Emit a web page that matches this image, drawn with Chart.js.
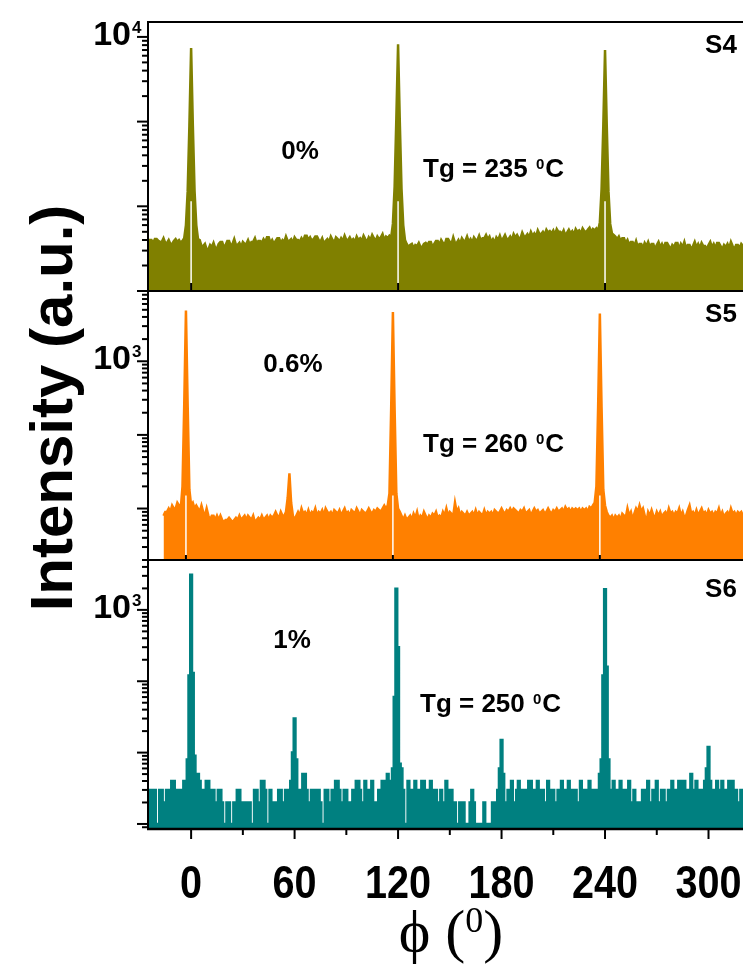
<!DOCTYPE html>
<html>
<head>
<meta charset="utf-8">
<script src="https://cdn.jsdelivr.net/npm/chart.js@4.4.1/dist/chart.umd.min.js"></script>
<style>
  html, body { margin: 0; padding: 0; background: #fff; overflow: hidden; }
  #wrap { position: relative; width: 743px; height: 967px; }
</style>
</head>
<body>
<div id="wrap"><canvas id="phiScan" width="743" height="967"></canvas></div>
<script>
(function () {
  "use strict";

  // phi scans, one reading per degree
  var PHI_STEP = 1;
  var s4Start = -26;
  var s5Start = -16;
  var s6Start = -26;

  // S4 (0 %), counts from -26 to 320 deg
  var s4Counts = [
    38, 38, 40, 40, 37, 41, 41, 39, 38, 38, 42, 37, 37, 40, 36, 36, 39, 41, 38, 40,
    37, 39, 42, 60, 150, 900, 7400, 900, 150, 60, 41, 40, 34, 34, 36, 31, 31, 35, 33, 37,
    32, 32, 36, 38, 38, 33, 35, 39, 39, 34, 36, 41, 35, 35, 37, 33, 38, 36, 36, 40,
    35, 38, 38, 42, 36, 39, 39, 37, 41, 38, 43, 43, 37, 40, 36, 39, 42, 42, 37, 40,
    38, 44, 39, 39, 41, 37, 43, 40, 40, 38, 42, 39, 45, 45, 40, 43, 39, 41, 44, 44,
    40, 38, 42, 36, 39, 41, 38, 44, 40, 37, 43, 41, 38, 42, 39, 45, 40, 40, 43, 39,
    41, 38, 44, 40, 42, 39, 45, 41, 38, 43, 40, 46, 42, 39, 44, 41, 43, 47, 40, 44,
    42, 45, 43, 62, 170, 1100, 8200, 1000, 160, 60, 40, 36, 33, 35, 36, 32, 35, 34, 37, 33,
    33, 36, 37, 35, 38, 38, 33, 36, 39, 39, 35, 40, 37, 35, 41, 41, 38, 36, 43, 37,
    37, 40, 36, 42, 39, 39, 44, 38, 41, 37, 43, 40, 40, 45, 39, 42, 42, 46, 41, 44,
    38, 41, 37, 43, 40, 45, 39, 42, 46, 41, 41, 44, 40, 47, 43, 46, 42, 42, 49, 44,
    44, 47, 43, 50, 45, 48, 44, 52, 47, 47, 50, 46, 53, 49, 51, 48, 52, 46, 54, 50,
    50, 47, 52, 45, 49, 53, 48, 51, 46, 54, 50, 52, 48, 55, 51, 49, 53, 56, 50, 54,
    52, 55, 51, 65, 160, 900, 7000, 900, 150, 62, 48, 46, 44, 41, 44, 39, 42, 42, 37, 40,
    35, 38, 38, 34, 39, 33, 36, 36, 32, 37, 34, 38, 33, 36, 36, 31, 35, 38, 33, 36,
    32, 37, 37, 34, 31, 35, 33, 37, 37, 31, 36, 33, 38, 32, 35, 35, 31, 34, 38, 33,
    36, 32, 37, 34, 34, 31, 35, 38, 33, 36, 32, 37, 37, 34, 31, 35, 33, 36, 32, 38,
    34, 31, 35, 35, 32, 36, 34
  ];

  // S5 (0.6 %), counts from -16 to 320 deg
  var s5Counts = [
    8, 9, 9, 10, 9, 11, 10, 10, 12, 11, 10, 20, 250, 4900, 250, 18, 11, 12, 10, 11,
    10, 9, 11, 9, 8, 10, 8, 7, 8, 8, 7, 8, 7, 8, 7, 6.5, 7, 7, 7.5, 7,
    6.5, 7, 7.5, 7, 8, 7, 7.5, 8, 7, 8, 7.5, 7, 8, 6.5, 7, 7.5, 7, 8, 7, 7.5,
    8, 7, 8, 7.5, 8, 9, 8, 7.5, 9, 8, 8, 9, 14, 30, 12, 8, 7, 8, 9, 8,
    10, 8.5, 9, 8, 9.5, 8, 9, 8.5, 10, 8, 9, 8.5, 9.5, 8, 10, 9, 8.5, 9, 8, 9.5,
    9, 8.5, 9.5, 8, 9, 10, 8.5, 9, 8, 9.5, 9, 8.5, 10, 9, 8, 9.5, 9, 8.5, 9, 10,
    9, 8.5, 9.5, 9, 10, 9.5, 9, 10, 11, 10, 11, 16, 230, 4650, 220, 16, 10, 9, 8, 7,
    8, 7, 7.5, 8, 7, 8.5, 7.5, 9, 7, 8, 7.5, 9, 8, 7, 8, 7.5, 8.5, 8, 9, 7.5,
    8, 7.5, 9, 8, 10, 8, 9, 8.5, 8, 12, 9, 10, 8, 9, 8.5, 8, 9, 8, 8.5, 9,
    8, 9.5, 8, 9, 8.5, 8, 9.5, 8, 9, 8.5, 9, 8, 9.5, 9, 8.5, 9, 10, 9, 8.5, 9.5,
    9, 10, 9, 10, 9.5, 9, 8.5, 9.5, 9, 10, 8.5, 9, 9.5, 8, 9, 10, 9, 9.5, 8.5, 9,
    9.5, 8.5, 9, 10, 9, 8.5, 9.5, 9, 10, 9, 9.5, 10, 9, 10.5, 9.5, 10, 9, 10, 9.5, 10,
    9.5, 10, 9, 10, 9.5, 10, 9, 10.5, 10, 11, 12, 20, 240, 4450, 230, 18, 11, 9, 8, 7.5,
    8, 7, 8, 7.5, 8, 7, 8.5, 8, 7.5, 10, 8, 9, 7, 8.5, 10, 9, 11, 9, 10, 8,
    6.5, 9, 8, 9.5, 8, 7.5, 9, 8, 9, 7.5, 8.5, 9, 8, 10, 8.5, 9, 8, 9, 8.5, 10,
    8, 9, 7.5, 8, 9.5, 11, 8.5, 9, 8, 9.5, 8, 9, 10, 8.5, 9, 8, 9.5, 8.5, 9, 8,
    9, 8.5, 10, 8, 9, 7.5, 8.5, 9, 8, 10, 8.5, 9, 8, 9, 8.5, 9, 8
  ];

  // S6 (1 %), counts from -26 to 320 deg
  var s6Counts = [
    2, 3, 3, 1, 3, 3, 1, 1, 3, 3, 2, 2, 3, 3, 3, 4, 4, 2, 3, 3,
    2, 3, 4, 4, 8, 120, 3100, 130, 9, 5, 5, 4, 3, 3, 2, 4, 4, 3, 2, 3,
    2, 2, 3, 3, 2, 1, 1, 2, 2, 1, 1, 2, 2, 3, 3, 2, 2, 2, 1, 2,
    2, 1, 1, 3, 3, 2, 2, 4, 4, 3, 1, 1, 3, 2, 2, 2, 1, 3, 3, 2,
    2, 3, 1, 3, 4, 10, 30, 8, 2, 3, 3, 5, 5, 3, 2, 2, 3, 3, 2, 3,
    3, 2, 1, 1, 3, 3, 2, 2, 3, 1, 4, 4, 3, 2, 2, 3, 3, 1, 2, 2,
    3, 1, 4, 4, 3, 2, 2, 4, 1, 3, 3, 4, 2, 2, 1, 3, 3, 4, 4, 2,
    5, 3, 4, 6, 60, 1980, 300, 7, 6, 3, 1, 1, 4, 2, 3, 3, 4, 2, 3, 2,
    4, 4, 2, 3, 1, 4, 2, 3, 3, 1, 2, 3, 2, 2, 4, 1, 3, 3, 2, 2,
    1, 1, 2, 2, 2, 1, 1, 1, 2, 3, 2, 1, 1, 1, 1, 1, 2, 1, 1, 1,
    1, 2, 2, 2, 3, 6, 15, 5, 2, 2, 3, 2, 4, 2, 2, 3, 4, 2, 3, 1,
    3, 1, 4, 4, 2, 3, 1, 4, 2, 3, 3, 2, 1, 4, 2, 3, 3, 1, 2, 3,
    2, 4, 3, 3, 1, 4, 2, 3, 1, 3, 2, 2, 4, 3, 1, 3, 2, 4, 3, 2,
    3, 2, 3, 5, 8, 120, 1950, 160, 8, 3, 2, 4, 2, 3, 1, 4, 2, 3, 2, 3,
    4, 2, 1, 3, 2, 1, 2, 1, 3, 3, 2, 4, 1, 2, 3, 2, 4, 2, 1, 3,
    3, 1, 2, 3, 1, 4, 2, 3, 1, 4, 2, 4, 4, 1, 3, 2, 5, 3, 2, 4,
    3, 2, 3, 2, 4, 6, 12, 4, 1, 3, 2, 4, 3, 1, 4, 2, 3, 2, 4, 1,
    4, 2, 3, 2, 1, 3, 2
  ];

  var xTickLabels = [0, 60, 120, 180, 240, 300];

  var FONT = "'Liberation Sans', Arial, sans-serif";
  var SERIF = "'Liberation Serif', 'Times New Roman', serif";

  function toPoints(start, counts) {
    return counts.map(function (c, i) { return { x: start + i * PHI_STEP, y: c }; });
  }

  // one entry per stacked panel, top to bottom
  var panels = [
    { axis: 'y4', tag: 'S4', doping: '0%', tg: '235', color: '#808000', stepped: false,
      min: 10, max: 15000, labelAt: 1e4, marks: [0, 120, 240], gapTop: 115, markLen: 8,
      dopingPos: [152, 128], tgPos: [275, 145.5], tagPos: [573, 22] },
    { axis: 'y5', tag: 'S5', doping: '0.6%', tg: '260', color: '#ff8000', stepped: false,
      min: 2, max: 9000, labelAt: 1e3, marks: [-3, 117, 237], gapTop: 15, markLen: 5,
      dopingPos: [145, 72], tgPos: [275, 152], tagPos: [573, 22] },
    { axis: 'y6', tag: 'S6', doping: '1%', tg: '250', color: '#008080', stepped: 'middle',
      min: 0.85, max: 5000, labelAt: 1e3, marks: [], gapTop: null, markLen: 0,
      dopingPos: [144, 79], tgPos: [272, 143], tagPos: [573, 28] }
  ];
  var series = [toPoints(s4Start, s4Counts), toPoints(s5Start, s5Counts), toPoints(s6Start, s6Counts)];

  function drawRich(ctx, x, y, parts) {
    parts.forEach(function (p) {
      ctx.font = p.font;
      ctx.fillText(p.t, x, y - (p.rise || 0));
      x += ctx.measureText(p.t).width + (p.after || 0);
    });
  }

  function line(ctx, x1, y1, x2, y2, w, color) {
    ctx.beginPath();
    ctx.lineWidth = w;
    ctx.strokeStyle = color;
    ctx.moveTo(x1, y1);
    ctx.lineTo(x2, y2);
    ctx.stroke();
  }

  var framePlugin = {
    id: 'phiFrame',
    afterDraw: function (chart) {
      var ctx = chart.ctx;
      var area = chart.chartArea;
      var xs = chart.scales.x;
      ctx.save();
      ctx.lineCap = 'butt';

      panels.forEach(function (p) {
        var ys = chart.scales[p.axis];
        // pale slits under the main reflections
        p.marks.forEach(function (m) {
          var px = xs.getPixelForValue(m);
          line(ctx, px, ys.bottom, px, ys.getPixelForValue(p.gapTop), 1.5, '#fff');
          line(ctx, px, ys.bottom, px, ys.bottom - p.markLen, 2, '#000');
        });
      });

      panels.forEach(function (p) {
        var ys = chart.scales[p.axis];
        // panel top edge and left axis
        line(ctx, area.left - 1, ys.top, area.right, ys.top, 2, '#000');
        line(ctx, area.left, ys.top, area.left, ys.bottom, 2, '#000');

        // log ticks, outward
        var e0 = Math.floor(Math.log10(p.min)), e1 = Math.ceil(Math.log10(p.max));
        for (var e = e0; e <= e1; e++) {
          for (var m = 1; m <= 9; m++) {
            var v = m * Math.pow(10, e);
            if (v < p.min * 0.999 || v > p.max) continue;
            var py = ys.getPixelForValue(v);
            line(ctx, area.left - (m === 1 ? 11 : 6), py, area.left, py, 2, '#000');
          }
        }

        // decade label with superscript exponent
        var ty = ys.getPixelForValue(p.labelAt);
        var exp = String(Math.round(Math.log10(p.labelAt)));
        ctx.fillStyle = '#000';
        ctx.textBaseline = 'alphabetic';
        ctx.font = 'bold 34px ' + FONT;
        ctx.textAlign = 'right';
        ctx.fillText('10', 131, ty + 8);
        ctx.textAlign = 'left';
        ctx.font = 'bold 17px ' + FONT;
        ctx.fillText(exp, 132, ty - 4);

        // sample annotations
        var ox = area.left, oy = ys.top;
        ctx.font = 'bold 26px ' + FONT;
        ctx.textAlign = 'center';
        ctx.fillText(p.doping, ox + p.dopingPos[0], oy + p.dopingPos[1] + 9);
        ctx.fillText(p.tag, ox + p.tagPos[0], oy + p.tagPos[1] + 9);
        ctx.textAlign = 'left';
        var big = 'bold 26px ' + FONT;
        drawRich(ctx, ox + p.tgPos[0], oy + p.tgPos[1] + 9, [
          { t: 'Tg = ' + p.tg + ' ', font: big, after: 1 },
          { t: '0', font: 'bold 15px ' + FONT, rise: 8, after: 1 },
          { t: 'C', font: big }
        ]);
      });

      // bottom phi axis
      line(ctx, area.left - 1, area.bottom, area.right, area.bottom, 2.5, '#000');
      for (var a = -30; a <= 330; a += 30) {
        if (a < xs.min || a > xs.max) continue;
        var px = xs.getPixelForValue(a);
        line(ctx, px, area.bottom, px, area.bottom + (a % 60 === 0 ? 10 : 6), 2, '#000');
      }
      ctx.fillStyle = '#000';
      ctx.textAlign = 'center';
      ctx.textBaseline = 'alphabetic';
      ctx.font = 'bold 46px ' + FONT;
      xTickLabels.forEach(function (t) {
        ctx.save();
        ctx.translate(xs.getPixelForValue(t), 898);
        ctx.scale(0.86, 1);
        ctx.fillText(String(t), 0, 0);
        ctx.restore();
      });

      // axis titles
      ctx.save();
      ctx.translate(72, 408);
      ctx.rotate(-Math.PI / 2);
      ctx.font = 'bold 60px ' + FONT;
      ctx.textAlign = 'center';
      ctx.fillText('Intensity (a.u.)', 0, 0);
      ctx.restore();

      ctx.textAlign = 'left';
      var ser = '60px ' + SERIF;
      var parts = [
        { t: '\u03D5 (', font: ser },
        { t: '0', font: '36px ' + SERIF, rise: 19 },
        { t: ')', font: ser }
      ];
      var w = 0;
      parts.forEach(function (q) { ctx.font = q.font; w += ctx.measureText(q.t).width; });
      drawRich(ctx, 451 - w / 2, 951, parts);

      ctx.restore();
    }
  };

  var scales = {
    x: {
      type: 'linear', position: 'bottom', min: -25, max: 320,
      ticks: { display: false }, grid: { display: false }, border: { display: false },
      afterFit: function (s) { s.height = 138; }
    }
  };
  panels.forEach(function (p, i) {
    scales[p.axis] = {
      type: 'logarithmic', position: 'left', min: p.min, max: p.max,
      stack: 'phi', stackWeight: 1, weight: panels.length - i,
      ticks: { display: false }, grid: { display: false }, border: { display: false },
      afterFit: function (s) { s.width = 148; }
    };
  });

  new Chart(document.getElementById('phiScan'), {
    type: 'line',
    data: {
      datasets: panels.map(function (p, i) {
        return {
          label: p.tag,
          data: series[i],
          xAxisID: 'x',
          yAxisID: p.axis,
          borderColor: p.color,
          backgroundColor: p.color,
          borderWidth: 2.5,
          fill: 'start',
          stepped: p.stepped,
          pointRadius: 0
        };
      })
    },
    options: {
      responsive: false,
      devicePixelRatio: 1,
      animation: false,
      layout: { padding: { top: 22, left: 0, right: 0, bottom: 0 } },
      plugins: { legend: { display: false }, tooltip: { enabled: false } },
      scales: scales
    },
    plugins: [framePlugin]
  });
})();
</script>
</body>
</html>
